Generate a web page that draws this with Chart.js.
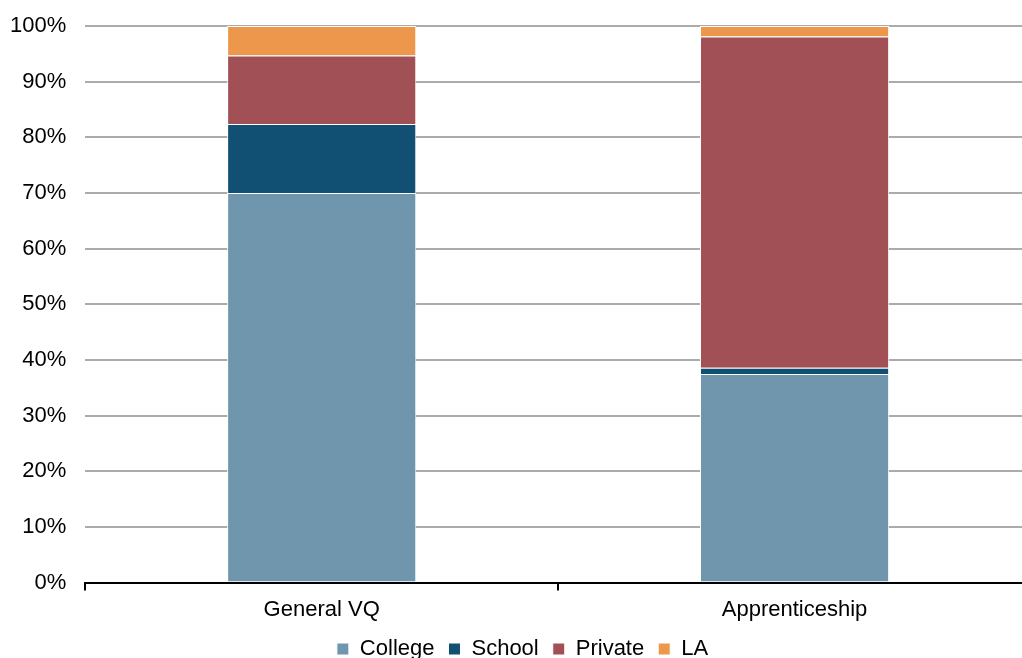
<!DOCTYPE html>
<html>
<head>
<meta charset="utf-8">
<script src="https://cdn.jsdelivr.net/npm/chart.js@4"></script>
<style>
  html, body { margin: 0; padding: 0; background: #fff; overflow: hidden; }
  /* plot runs a little past the right edge of the window */
  #wrap { width: 1031px; height: 658px; }
</style>
</head>
<body>
<div id="wrap"><canvas id="myChart"></canvas></div>
<script>
// share of learners by provider type (%)
const routes = ['General VQ', 'Apprenticeship'];
const college = [70.0, 37.5];
const school = [12.4, 1.1];
const priv = [12.3, 59.5];
const la = [5.3, 1.9];
const yTicks = [0, 10, 20, 30, 40, 50, 60, 70, 80, 90, 100];

Chart.defaults.font.family = '"Liberation Sans", Arial, sans-serif';
Chart.defaults.font.size = 22;
Chart.defaults.color = '#000';

function series(label, data, colour) {
    return {
        label: label,
        data: data,
        backgroundColor: colour,
        borderColor: '#ffffff',
        borderWidth: 1,
        categoryPercentage: 1,
        barPercentage: 0.4
    };
}

let data = {
    labels: routes,
    datasets: [
        series('College', college, '#7096ae'),
        series('School', school, '#114f73'),
        series('Private', priv, '#a15155'),
        series('LA', la, '#ec974b')
    ]
};

// nudge the legend row a little to the right
const legendShift = {
    id: 'legendShift',
    afterLayout(chart) {
        chart.legend.left += 23;
    }
};

let config = {
    type: 'bar',
    data,
    plugins: [legendShift],
    options: {
        responsive: true,
        maintainAspectRatio: false,
        animation: false,
        layout: { padding: { top: 26, right: 0, left: -9, bottom: -12 } },
        plugins: {
            tooltip: { enabled: false },
            legend: {
                position: 'bottom',
                labels: {
                    boxWidth: 12,
                    boxHeight: 12,
                    padding: 14,
                    font: { size: 22 }
                }
            }
        },
        scales: {
            x: {
                stacked: true,
                afterFit: axis => { axis.height -= 5; },
                grid: {
                    offset: true,
                    drawOnChartArea: false,
                    drawTicks: true,
                    tickLength: 8,
                    color: '#000',
                    lineWidth: 2
                },
                border: { color: '#000', width: 2 },
                ticks: { padding: 6 }
            },
            y: {
                stacked: true,
                min: 0,
                max: 100,
                afterBuildTicks: axis => { axis.ticks = yTicks.map(v => ({ value: v })); },
                // let the 100% label overhang the top instead of pushing the plot down
                afterFit: axis => { axis.paddingTop = 0; axis.paddingBottom = 0; },
                grid: { color: '#ababab', lineWidth: 2, drawTicks: false },
                border: { display: false },
                ticks: {
                    padding: 19,
                    callback: v => v + '%'
                }
            }
        }
    }
};

let myChart = new Chart(document.getElementById('myChart'), config);
</script>
</body>
</html>
